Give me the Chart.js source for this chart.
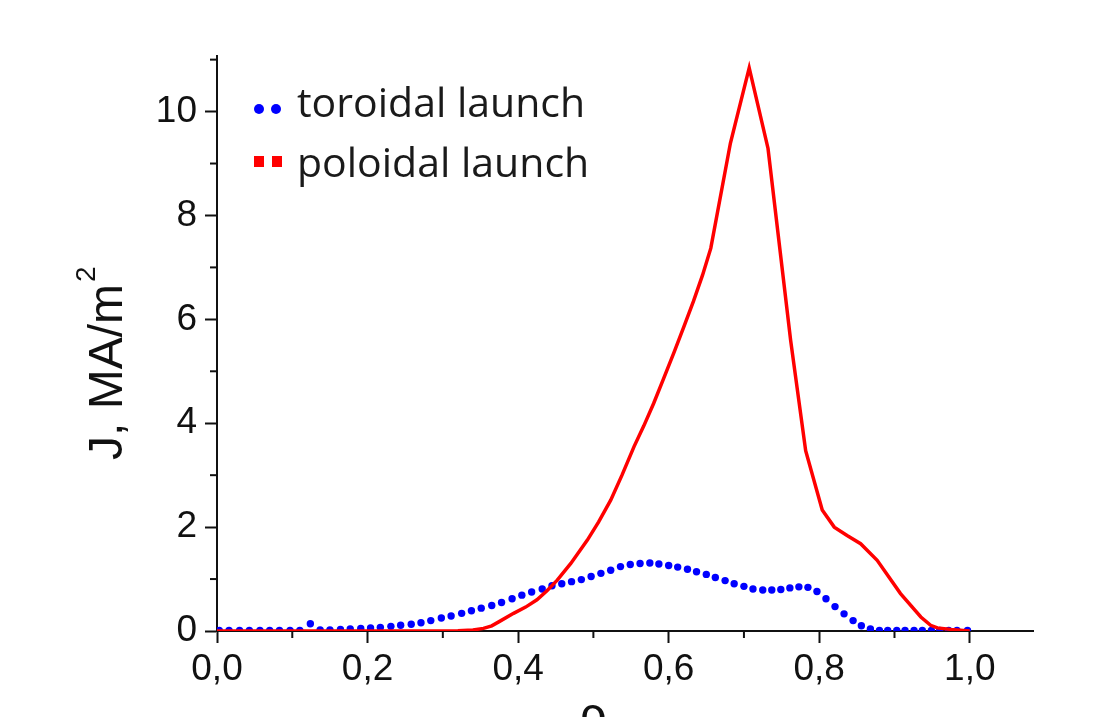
<!DOCTYPE html>
<html>
<head>
<meta charset="utf-8">
<script src="https://cdn.jsdelivr.net/npm/chart.js@4/dist/chart.umd.min.js"></script>
<style>
  html, body { margin: 0; padding: 0; background: #fff; overflow: hidden; }
  #wrap { width: 1115px; height: 717px; overflow: hidden; }
</style>
</head>
<body>
<div id="wrap"><canvas id="jChart" width="1115" height="760"></canvas></div>
<script>
// toroidal launch (blue dots)
const rhoToroidal = [0.003, 0.016, 0.030, 0.043, 0.057, 0.070, 0.083, 0.097, 0.110, 0.124,
    0.137, 0.150, 0.164, 0.177, 0.191, 0.204, 0.217, 0.231, 0.244, 0.258,
    0.271, 0.284, 0.298, 0.311, 0.325, 0.338, 0.351, 0.365, 0.378, 0.392,
    0.405, 0.418, 0.432, 0.445, 0.458, 0.471, 0.484, 0.497, 0.510, 0.523,
    0.536, 0.549, 0.562, 0.575, 0.587, 0.600, 0.612, 0.625, 0.637, 0.650,
    0.662, 0.675, 0.687, 0.700, 0.712, 0.725, 0.737, 0.749, 0.761, 0.773,
    0.785, 0.797, 0.809, 0.821, 0.833, 0.845, 0.856, 0.868, 0.880, 0.891,
    0.903, 0.914, 0.926, 0.937, 0.949, 0.960, 0.972, 0.983, 0.997];
const jToroidal = [0.01, 0.01, 0.01, 0.01, 0.01, 0.01, 0.01, 0.01, 0.01, 0.14,
    0.02, 0.02, 0.03, 0.04, 0.05, 0.06, 0.07, 0.09, 0.11, 0.13,
    0.16, 0.20, 0.25, 0.29, 0.34, 0.39, 0.44, 0.49, 0.55, 0.62,
    0.69, 0.75, 0.81, 0.87, 0.91, 0.95, 0.99, 1.05, 1.11, 1.17,
    1.24, 1.28, 1.30, 1.31, 1.29, 1.26, 1.23, 1.19, 1.14, 1.09,
    1.03, 0.97, 0.91, 0.86, 0.81, 0.79, 0.79, 0.80, 0.83, 0.85,
    0.84, 0.76, 0.62, 0.47, 0.33, 0.20, 0.10, 0.04, 0.01, 0.01,
    0.01, 0.01, 0.01, 0.01, 0.01, 0.01, 0.01, 0.01, 0.01];

// poloidal launch (red line)
const rhoPoloidal = [0.0, 0.30, 0.32, 0.34, 0.354, 0.365, 0.376, 0.394, 0.41, 0.425,
    0.438, 0.452, 0.47, 0.492, 0.507, 0.523, 0.538, 0.554, 0.567, 0.58,
    0.593, 0.607, 0.62, 0.633, 0.645, 0.656, 0.682, 0.707, 0.732, 0.762,
    0.782, 0.804, 0.82, 0.837, 0.855, 0.877, 0.908, 0.935, 0.948, 0.957,
    0.975, 1.0];
const jPoloidal = [0.0, 0.0, 0.005, 0.02, 0.05, 0.1, 0.19, 0.34, 0.46, 0.6,
    0.77, 0.98, 1.3, 1.75, 2.1, 2.52, 3.0, 3.55, 3.95, 4.38,
    4.85, 5.36, 5.85, 6.35, 6.85, 7.37, 9.39, 10.84, 9.29, 5.6,
    3.47, 2.33, 2.0, 1.84, 1.68, 1.36, 0.72, 0.27, 0.11, 0.06,
    0.03, 0.0];

const xTickStep = 0.2;
const yTickStep = 2;
const xMinorTicks = [0.1, 0.3, 0.5, 0.7, 0.9];
const yMinorTicks = [1, 3, 5, 7, 9, 11];
const legendLabels = ['toroidal launch', 'poloidal launch'];
const xTitle = 'ρ';
const yTitle = 'J, MA/m';
const yTitleSup = '2';

const tickFont = { family: 'Liberation Sans, Arial, sans-serif', size: 37 };

// minor ticks, axis titles and the legend inside the plot
const extrasPlugin = {
    id: 'extras',
    afterDraw(chart) {
        const { ctx, chartArea, scales } = chart;
        ctx.save();
        ctx.strokeStyle = '#111';
        ctx.lineWidth = 2;
        yMinorTicks.forEach(v => {
            const y = scales.y.getPixelForValue(v);
            ctx.beginPath();
            ctx.moveTo(chartArea.left, y);
            ctx.lineTo(chartArea.left - 7, y);
            ctx.stroke();
        });
        xMinorTicks.forEach(v => {
            const x = scales.x.getPixelForValue(v);
            ctx.beginPath();
            ctx.moveTo(x, chartArea.bottom);
            ctx.lineTo(x, chartArea.bottom + 7);
            ctx.stroke();
        });

        // axis titles
        ctx.fillStyle = '#111';
        ctx.font = '48px "Liberation Sans", Arial, sans-serif';
        ctx.textBaseline = 'alphabetic';
        ctx.textAlign = 'center';
        ctx.fillText(xTitle, 593, 731);
        ctx.save();
        ctx.translate(122, 460);
        ctx.rotate(-Math.PI / 2);
        ctx.textAlign = 'left';
        ctx.fillText(yTitle, 0, 0);
        const w = ctx.measureText(yTitle).width;
        ctx.font = '28px "Liberation Sans", Arial, sans-serif';
        ctx.fillText(yTitleSup, w + 2, -27);
        ctx.restore();

        // legend
        ctx.fillStyle = '#0000ff';
        [259, 276].forEach(cx => {
            ctx.beginPath();
            ctx.arc(cx, 109, 5, 0, Math.PI * 2);
            ctx.fill();
        });
        ctx.fillStyle = '#ff0000';
        ctx.fillRect(254, 156, 10, 11);
        ctx.fillRect(272, 156, 10, 11);

        ctx.fillStyle = '#1a1a1a';
        ctx.font = '41px "Open Sans", sans-serif';
        ctx.textAlign = 'left';
        ctx.fillText(legendLabels[0], 297, 117);
        ctx.fillText(legendLabels[1], 297, 177);
        ctx.restore();
    }
};

new Chart(document.getElementById('jChart').getContext('2d'), {
    type: 'line',
    data: {
        datasets: [
            {
                label: legendLabels[1],
                data: rhoPoloidal.map((x, i) => ({ x: x, y: jPoloidal[i] })),
                borderColor: '#ff0000',
                borderWidth: 3.5,
                pointRadius: 0,
                tension: 0,
                fill: false,
                order: 0
            },
            {
                label: legendLabels[0],
                data: rhoToroidal.map((x, i) => ({ x: x, y: jToroidal[i] })),
                showLine: false,
                pointRadius: 3.7,
                pointBackgroundColor: '#0000ff',
                pointBorderWidth: 0,
                order: 1
            }
        ]
    },
    options: {
        responsive: false,
        animation: false,
        devicePixelRatio: 1,
        layout: { padding: { left: 0, right: 82, top: 56, bottom: 0 } },
        plugins: {
            legend: { display: false },
            tooltip: { enabled: false }
        },
        scales: {
            x: {
                type: 'linear',
                min: 0,
                max: 1.084,
                afterFit: scale => { scale.height = 129; },
                ticks: {
                    stepSize: xTickStep,
                    includeBounds: false,
                    maxRotation: 0,
                    autoSkip: false,
                    padding: 5,
                    color: '#111',
                    font: tickFont,
                    callback: v => v.toFixed(1).replace('.', ',')
                },
                grid: { drawOnChartArea: false, drawTicks: true, tickLength: 12, tickWidth: 2, tickColor: '#111' },
                border: { color: '#111', width: 2 }
            },
            y: {
                min: 0,
                max: 11.07,
                afterFit: scale => { scale.width = 217; },
                ticks: {
                    stepSize: yTickStep,
                    includeBounds: false,
                    padding: 8,
                    color: '#111',
                    font: tickFont
                },
                grid: { drawOnChartArea: false, drawTicks: true, tickLength: 12, tickWidth: 2, tickColor: '#111' },
                border: { color: '#111', width: 2 }
            }
        }
    },
    plugins: [extrasPlugin]
});
</script>
</body>
</html>
